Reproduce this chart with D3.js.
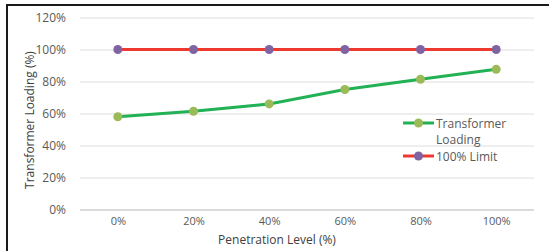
<!DOCTYPE html>
<html>
<head>
<meta charset="utf-8">
<script src="https://cdn.jsdelivr.net/npm/d3@7"></script>
<style>
  body { margin: 0; background: #fff; }
  text { font-family: "Open Sans", "Noto Sans", sans-serif; }
</style>
</head>
<body>
<script>
// data
const levels = ["0%", "20%", "40%", "60%", "80%", "100%"]
const loading = [58, 61.4, 66, 75, 81.4, 87.6]
const limit = [100, 100, 100, 100, 100, 100]
const yTicks = [0, 20, 40, 60, 80, 100, 120]

const svg = d3.select("body")
    .append("svg")
    .attr("width", 549)
    .attr("height", 251)

// outer frame (only top and left edges show in the crop)
svg.append("rect")
    .attr("x", 7)
    .attr("y", 5)
    .attr("width", 560)
    .attr("height", 270)
    .attr("fill", "none")
    .attr("stroke", "#1a1a1a")
    .attr("stroke-width", 2)

const x = d3.scalePoint()
    .domain(levels)
    .range([80, 534])
    .padding(0.5)

const y = d3.scaleLinear()
    .domain([0, 120])
    .range([209.5, 17.5])

// gridlines + y labels
const yAxis = svg.append("g")
    .attr("transform", "translate(80,0)")
    .call(d3.axisLeft(y).tickValues(yTicks).tickFormat(d => d + "%").tickSize(-454).tickPadding(14))
yAxis.select(".domain").remove()
yAxis.selectAll(".tick line")
    .attr("stroke", d => d === 0 ? "#cfcfcf" : "#dedede")
    .attr("stroke-width", d => d === 0 ? 1.5 : 1)
yAxis.selectAll(".tick text")
    .attr("fill", "#595959")
    .style("font-size", "12px")

// x labels
const xAxis = svg.append("g")
    .attr("transform", "translate(0,209.5)")
    .call(d3.axisBottom(x).tickSize(0).tickPadding(8))
xAxis.select(".domain").remove()
xAxis.selectAll(".tick text")
    .attr("fill", "#595959")
    .style("font-size", "11px")

// axis titles
svg.append("text")
    .attr("x", 277)
    .attr("y", 244)
    .attr("text-anchor", "middle")
    .attr("fill", "#404040")
    .style("font-size", "12px")
    .text("Penetration Level (%)")

svg.append("text")
    .attr("transform", "translate(34,120) rotate(-90)")
    .attr("text-anchor", "middle")
    .attr("fill", "#404040")
    .style("font-size", "12px")
    .text("Transformer Loading (%)")

const line = d3.line()
    .x((d, i) => x(levels[i]))
    .y(d => y(d))

const series = [
    { name: "Transformer Loading", values: loading, stroke: "#22b155", fill: "#9bbb59" },
    { name: "100% Limit", values: limit, stroke: "#ee3a2e", fill: "#8064a2" }
]

series.slice().reverse().forEach(s => {
    svg.append("path")
        .attr("d", line(s.values))
        .attr("fill", "none")
        .attr("stroke", s.stroke)
        .attr("stroke-width", 3)
    svg.selectAll(null)
        .data(s.values)
        .enter()
        .append("circle")
        .attr("cx", (d, i) => x(levels[i]))
        .attr("cy", d => y(d))
        .attr("r", 4.5)
        .attr("fill", s.fill)
})

// legend
const legendY = [123, 156]
series.forEach((s, i) => {
    const g = svg.append("g").attr("transform", "translate(403," + legendY[i] + ")")
    g.append("line")
        .attr("x1", 0).attr("x2", 31)
        .attr("stroke", s.stroke)
        .attr("stroke-width", 3)
    g.append("circle")
        .attr("cx", 15.5)
        .attr("r", 4.5)
        .attr("fill", s.fill)
    const t = g.append("text")
        .attr("x", 33)
        .attr("y", 4.5)
        .attr("fill", "#595959")
        .style("font-size", "12px")
    if (i === 0) {
        t.append("tspan").attr("x", 33).text("Transformer")
        t.append("tspan").attr("x", 33).attr("dy", 16.5).text("Loading")
    } else {
        t.text(s.name)
    }
})
</script>
</body>
</html>
